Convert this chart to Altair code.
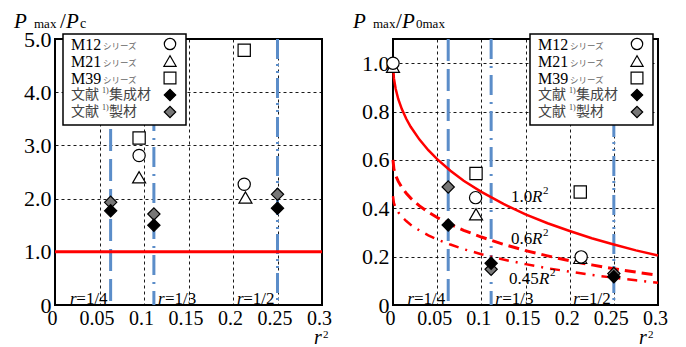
import altair as alt
import pandas as pd

# ---------------- data ----------------
x_ticks = [0, 0.05, 0.1, 0.15, 0.2, 0.25, 0.3]
left_y_ticks = [0, 1, 2, 3, 4, 5]
right_y_ticks = [0, 0.2, 0.4, 0.6, 0.8, 1.0]

r_lines = [0.0625, 0.1111, 0.25]
r_names = ["1/4", "1/3", "1/2"]

# left panel : Pmax / Pc
L_m12_x = [0.0945, 0.2126]; L_m12_y = [2.81, 2.27]
L_m21_x = [0.0945, 0.2140]; L_m21_y = [2.40, 2.02]
L_m39_x = [0.0945, 0.2126]; L_m39_y = [3.14, 4.79]
L_glu_x = [0.0625, 0.1111, 0.25]; L_glu_y = [1.77, 1.50, 1.82]
L_saw_x = [0.0625, 0.1111, 0.25]; L_saw_y = [1.93, 1.71, 2.08]
ref_level = [1.0]

# right panel : Pmax / P0max
R_m12_x = [0.0, 0.0935, 0.2130]; R_m12_y = [1.00, 0.444, 0.199]
R_m21_x = [0.0, 0.0940, 0.2120]; R_m21_y = [0.985, 0.375, 0.195]
R_m39_x = [0.0940, 0.2120]; R_m39_y = [0.544, 0.467]
R_glu_x = [0.0625, 0.1111, 0.25]; R_glu_y = [0.331, 0.173, 0.117]
R_saw_x = [0.0625, 0.1111, 0.25]; R_saw_y = [0.488, 0.148, 0.130]

curve_x = [0, 0.001, 0.003, 0.006, 0.01, 0.015, 0.02, 0.03, 0.04, 0.05, 0.065,
           0.08, 0.1, 0.125, 0.15, 0.175, 0.2, 0.225, 0.25, 0.275, 0.3]
curve_10 = [1.0, 0.938, 0.894, 0.851, 0.81, 0.770, 0.737, 0.684, 0.64, 0.603, 0.555,
            0.514, 0.468, 0.418, 0.375, 0.338, 0.306, 0.276, 0.25, 0.226, 0.205]
curve_06 = [0.6, 0.563, 0.536, 0.511, 0.486, 0.462, 0.442, 0.410, 0.384, 0.362, 0.333,
            0.309, 0.281, 0.251, 0.225, 0.203, 0.183, 0.166, 0.15, 0.136, 0.123]
curve_045 = [0.45, 0.422, 0.402, 0.383, 0.365, 0.347, 0.332, 0.308, 0.288, 0.271, 0.250,
             0.231, 0.210, 0.188, 0.169, 0.152, 0.138, 0.124, 0.113, 0.102, 0.092]

legend_series = ["M12", "M21", "M39"]
legend_lit = ["集成材", "製材"]

# ---------------- style ----------------
SERIF = "Liberation Serif"
JP = "Noto Sans CJK JP"
BLUE = "#5B8DC9"
RED = "#FF0000"
H = 266

one = pd.DataFrame({"a": [0]})

GRID = dict(grid=True, gridColor="black", gridDash=[3, 3], gridWidth=0.9, gridOpacity=1,
            domain=False, ticks=False, labelFont=SERIF, labelColor="black",
            labelFlush=False, labelOverlap=False, title=None)


def xenc():
    return alt.X("x:Q", scale=alt.Scale(domain=[0, 0.3], nice=False, zero=False),
                 axis=alt.Axis(values=x_ticks,
                               labelExpr="datum.value == 0 ? '0' : format(datum.value, '~g')",
                               labelFontSize=20, labelPadding=3, labelOffset=-3, **GRID))


def yenc(domain, ticks, fmt):
    return alt.Y("y:Q", scale=alt.Scale(domain=domain, nice=False, zero=False),
                 axis=alt.Axis(values=ticks,
                               labelExpr="datum.value == 0 ? '0' : format(datum.value, '%s')" % fmt,
                               labelFontSize=22, labelPadding=4, **GRID))


def txt(s, x, y, size, italic=False, font=SERIF, color="black", align="left", baseline="alphabetic"):
    return alt.Chart(one).mark_text(text=s, font=font, fontSize=size,
                                    fontStyle="italic" if italic else "normal",
                                    color=color, align=align, baseline=baseline).encode(
        x=alt.value(x), y=alt.value(y))


def pts(xs, ys, X, Y, shape, fill, size, stroke="black"):
    df = pd.DataFrame({"x": xs, "y": ys})
    return alt.Chart(df).mark_point(shape=shape, filled=True, fill=fill, stroke=stroke,
                                    strokeWidth=1.2, size=size, opacity=1).encode(x=X, y=Y)


def legend(L):
    layers = [alt.Chart(one).mark_rect(fill="white", stroke="black", strokeWidth=1.5).encode(
        x=alt.value(L), x2=alt.value(L + 123), y=alt.value(-5), y2=alt.value(86))]
    rows = [5, 22, 39, 56, 73]
    shapes = [("circle", "white", 130), ("triangle-up", "white", 150), ("square", "white", 140),
              ("diamond", "black", 130), ("diamond", "#777777", 130)]
    for i, name in enumerate(legend_series):
        layers.append(txt(name, L + 8, rows[i] + 1, 16, baseline="middle"))
        layers.append(txt("シリーズ", L + 40, rows[i] + 2, 8.5, font=JP, color="#666666", baseline="middle"))
    for j, name in enumerate(legend_lit):
        r = rows[3 + j]
        layers.append(txt("文献", L + 8, r, 14, font=JP, color="#444444", baseline="middle"))
        layers.append(txt("1)", L + 39, r - 4, 8, font=SERIF, color="#444444", baseline="middle"))
        layers.append(txt(name, L + 46, r, 14, font=JP, color="#444444", baseline="middle"))
    for i, (shp, fill, size) in enumerate(shapes):
        layers.append(alt.Chart(one).mark_point(shape=shp, filled=True, fill=fill, stroke="black",
                                                strokeWidth=1.2, size=size, opacity=1).encode(
            x=alt.value(L + 107), y=alt.value(rows[i])))
    return layers


def blue_lines(X):
    df = pd.DataFrame({"x": r_lines, "name": r_names})
    return alt.Chart(df).mark_rule(color=BLUE, strokeWidth=3).encode(
        x=X,
        strokeDash=alt.StrokeDash("name:N", legend=None,
                                  scale=alt.Scale(domain=r_names,
                                                  range=[[22, 8], [20, 7, 2, 7], [20, 5, 2, 5, 2, 5]])))


def r_labels(X):
    df = [pd.DataFrame({"x": [v]}) for v in r_lines]
    out = []
    spec = [(0, "right", -3, -34), (1, "left", 11, 4), (2, "right", -3, -34)]
    for i, al, dnum, dr in spec:
        out.append(alt.Chart(df[i]).mark_text(text="=" + r_names[i], font=SERIF, fontSize=17,
                                              align=al, dx=dnum).encode(x=X, y=alt.value(260)))
        out.append(alt.Chart(df[i]).mark_text(text="r", font=SERIF, fontSize=17, fontStyle="italic",
                                              align=al, dx=dr).encode(x=X, y=alt.value(260)))
    return out


# ---------------- left panel ----------------
XL = xenc()
YL = yenc([0, 5], left_y_ticks, ".1f")
left_layers = [
    blue_lines(XL),
    alt.Chart(pd.DataFrame({"y": ref_level})).mark_rule(color=RED, strokeWidth=3).encode(y=YL),
    pts(L_m39_x, L_m39_y, XL, YL, "square", "white", 150),
    pts(L_m12_x, L_m12_y, XL, YL, "circle", "white", 150),
    pts(L_m21_x, L_m21_y, XL, YL, "triangle-up", "white", 170),
    pts(L_saw_x, L_saw_y, XL, YL, "diamond", "#777777", 150),
    pts(L_glu_x, L_glu_y, XL, YL, "diamond", "black", 150),
] + r_labels(XL) + legend(8) + [
    txt("P", -41, -11, 21, italic=True),
    txt("max", -21, -11, 13),
    txt("/", 5, -11, 21),
    txt("P", 11, -11, 21, italic=True),
    txt("c", 25, -11, 14),
    txt("r", 259, 305, 20, italic=True),
    txt("2", 268, 299, 11),
]
left = alt.layer(*left_layers).properties(width=267, height=H)

# ---------------- right panel ----------------
XR = xenc()
YR = yenc([0, 1.1], right_y_ticks, ".1f")


def curve(ys, width, dash):
    df = pd.DataFrame({"x": curve_x, "y": ys})
    kw = dict(color=RED, strokeWidth=width)
    if dash:
        kw["strokeDash"] = dash
    return alt.Chart(df).mark_line(**kw).encode(x=XR, y=YR)


right_layers = [
    blue_lines(XR),
    curve(curve_10, 2.5, None),
    curve(curve_06, 3, [11, 6]),
    curve(curve_045, 2.5, [10, 7, 2, 7]),
    pts(R_m39_x, R_m39_y, XR, YR, "square", "white", 150),
    pts(R_m21_x, R_m21_y, XR, YR, "triangle-up", "white", 170),
    pts(R_m12_x, R_m12_y, XR, YR, "circle", "white", 150),
    pts(R_saw_x, R_saw_y, XR, YR, "diamond", "#777777", 150),
    pts(R_glu_x, R_glu_y, XR, YR, "diamond", "black", 150),
] + r_labels(XR) + legend(137) + [
    txt("1.0", 118, 163, 17), txt("R", 139, 163, 17, italic=True), txt("2", 150, 155, 11),
    txt("0.6", 118, 205, 17), txt("R", 139, 205, 17, italic=True), txt("2", 150, 197, 11),
    txt("0.45", 116, 245, 17), txt("R", 146, 245, 17, italic=True), txt("2", 157, 237, 11),
    txt("P", -40, -11, 21, italic=True),
    txt("max", -20, -11, 13),
    txt("/", 3, -11, 21),
    txt("P", 9, -11, 21, italic=True),
    txt("0max", 23, -11, 13),
    txt("r", 246, 305, 20, italic=True),
    txt("2", 255, 299, 11),
]
right = alt.layer(*right_layers).properties(width=265, height=H)

chart = alt.hconcat(left, right, spacing=71, bounds="flush").properties(
    padding={"left": 5, "top": 2, "right": 5, "bottom": 0}
).configure_view(stroke="black", strokeWidth=2)

chart.save("out.html", embed_options={"renderer": "svg", "actions": False})
